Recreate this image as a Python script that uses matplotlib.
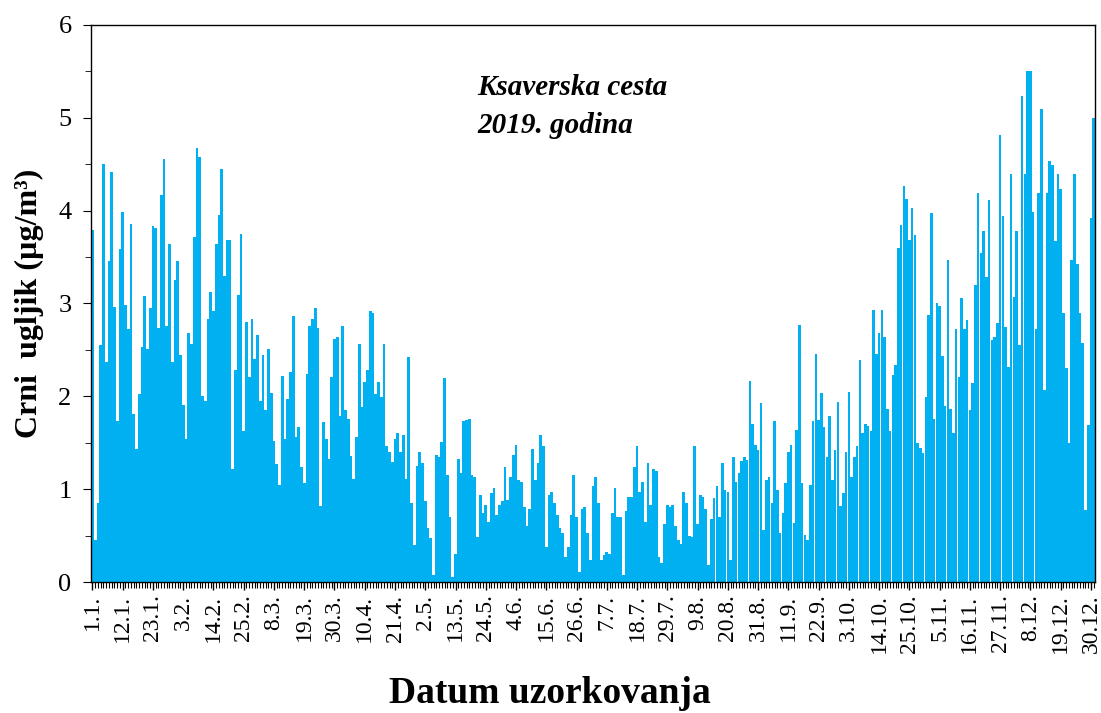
import numpy as np
import matplotlib
matplotlib.use("Agg")
import matplotlib.pyplot as plt
from matplotlib.ticker import MultipleLocator

# dnevne vrijednosti crnog ugljika (ug/m3), 1.1.2019 - 31.12.2019
jan_feb = [3.79, 0.45, 0.85, 2.55, 4.5, 2.37, 3.46, 4.42, 2.96, 1.73, 3.59, 3.99, 2.98, 2.73,
           3.86, 1.81, 1.43, 2.02, 2.53, 3.08, 2.51, 2.95, 3.83, 3.81, 2.74, 4.17, 4.56, 2.76,
           3.64, 2.37, 3.25, 3.46, 2.44, 1.91, 1.54, 2.68, 2.56, 3.72]
feb_mar = [4.67, 4.58, 2.0, 1.95, 2.83, 3.12, 2.92, 3.64, 3.95, 4.45, 3.3, 3.68, 3.68, 1.22,
           2.28, 3.09, 3.75, 1.63, 2.8, 2.21, 2.83, 2.4, 2.66, 1.95, 2.44, 1.85, 2.51, 2.04,
           1.52, 1.27, 1.04, 2.22, 1.54, 1.97, 2.26, 2.87, 1.56, 1.67, 1.24, 1.07]
mar_apr = [2.24, 2.76, 2.83, 2.95, 2.74, 0.82, 1.72, 1.54, 1.32, 2.21, 2.62, 2.64, 1.79, 2.76,
           1.85, 1.76, 1.36, 1.11, 1.56, 2.56, 1.88, 2.15, 2.28, 2.92, 2.9, 2.03, 2.15, 1.99,
           2.56, 1.47, 1.4, 1.29, 1.54, 1.61, 1.4, 1.58, 1.11, 2.42, 0.85, 0.4, 1.25, 1.4]
may_jun = [1.28, 0.87, 0.58, 0.47, 0.08, 1.37, 1.35, 1.51, 2.2, 1.15, 0.7, 0.05, 0.3, 1.33,
           1.17, 1.73, 1.74, 1.76, 1.15, 1.13, 0.49, 0.94, 0.74, 0.83, 0.65, 0.96, 1.01, 0.72,
           0.83, 0.87, 1.24, 0.88, 1.13, 1.37, 1.48, 1.1, 1.08, 0.81]
jun_jul = [0.6, 0.79, 1.43, 1.1, 1.28, 1.58, 1.46, 0.38, 0.94, 0.97, 0.85, 0.72, 0.58, 0.53,
           0.27, 0.38, 0.72, 1.15, 0.7, 0.11, 0.79, 0.81, 0.53, 0.24, 1.03, 1.13, 0.85, 0.24,
           0.29, 0.32, 0.3, 0.74, 1.01, 0.7, 0.7, 0.08, 0.76, 0.92, 0.92, 1.24, 1.46]
jul_aug = [0.97, 1.08, 0.65, 1.28, 0.83, 1.22, 1.2, 0.27, 0.2, 0.63, 0.83, 0.81, 0.83, 0.6,
           0.45, 0.41, 0.97, 0.85, 0.5, 0.49, 1.46, 0.63, 0.94, 0.92, 0.79, 0.18, 0.68, 0.9,
           1.03, 0.7, 1.28, 0.99, 0.97, 0.24, 1.35, 1.08, 1.17, 1.3, 1.35, 1.31, 2.17]
aug_okt = [1.7, 1.48, 1.42, 1.93, 0.56, 1.1, 1.13, 0.85, 1.73, 0.99, 0.53, 0.74, 1.07, 1.4,
           1.48, 0.64, 1.64, 2.77, 1.07, 0.51, 0.45, 1.05, 1.73, 2.46, 1.75, 2.04, 1.67, 1.35,
           1.79, 1.1, 1.42, 1.94, 0.82, 0.96, 1.4, 2.05, 1.13, 1.35, 1.46, 2.39]
okt_nov = [1.61, 1.7, 1.68, 1.63, 2.93, 2.46, 2.68, 2.93, 2.64, 1.86, 1.63, 2.23, 2.34, 3.6,
           3.84, 4.27, 4.13, 3.68, 4.03, 3.74, 1.5, 1.44, 1.39, 1.99, 2.88, 3.98, 1.76, 3.0,
           2.97, 2.43, 1.9, 3.47, 1.86, 1.6, 2.72, 2.21, 3.06, 2.72]
nov_dec = [2.82, 1.85, 2.14, 3.2, 4.19, 3.54, 3.78, 3.29, 4.12, 2.61, 2.64, 2.79, 4.82, 3.94,
           2.75, 2.32, 4.4, 3.07, 3.78, 2.55, 5.23, 4.39, 5.5, 5.5, 3.99, 2.72, 4.19, 5.1,
           2.07, 4.19, 4.53, 4.49, 3.67, 4.39, 4.23, 2.9, 2.3, 1.5, 3.47, 4.4, 3.42, 2.9,
           2.57, 0.78, 1.69, 3.92, 5.0]

vrijednosti = (jan_feb + feb_mar + mar_apr + may_jun + jun_jul + jul_aug
               + aug_okt + okt_nov + nov_dec)
assert len(vrijednosti) == 365, len(vrijednosti)

datumi = ["1.1.", "12.1.", "23.1.", "3.2.", "14.2.", "25.2.", "8.3.", "19.3.", "30.3.",
          "10.4.", "21.4.", "2.5.", "13.5.", "24.5.", "4.6.", "15.6.", "26.6.", "7.7.",
          "18.7.", "29.7.", "9.8.", "20.8.", "31.8.", "11.9.", "22.9.", "3.10.", "14.10.",
          "25.10.", "5.11.", "16.11.", "27.11.", "8.12.", "19.12.", "30.12."]

plt.rcParams['font.family'] = ['Liberation Serif', 'DejaVu Serif']

fig = plt.figure(figsize=(11.01, 7.13), dpi=100)
ax = fig.add_axes([0.0827, 0.1837, 0.9119, 0.7813])

dani = np.arange(len(vrijednosti))
ax.bar(dani, vrijednosti, width=0.97, color="#00B0F0", linewidth=0)

ax.set_xlim(-0.5, 364.5)
ax.set_ylim(0, 6)

ax.set_xticks(dani[::11])
ax.set_xticklabels(datumi, rotation=90)
ax.set_xticks(dani, minor=True)
ax.tick_params(axis="x", which="major", length=6, width=1, pad=3, labelsize=17)
ax.tick_params(axis="x", which="minor", length=4, width=0.8)

ax.yaxis.set_major_locator(MultipleLocator(1))
ax.yaxis.set_minor_locator(MultipleLocator(0.5))
ax.tick_params(axis="y", which="major", length=6, labelsize=19, pad=8)
ax.tick_params(axis="y", which="minor", length=4)

for s in ax.spines.values():
    s.set_linewidth(1)

ax.set_ylabel("Crni  ugljik (µg/m³)", fontsize=23, fontweight="bold", va="center")
ax.yaxis.set_label_coords(-0.061, 0.5)
ax.set_xlabel("Datum uzorkovanja", fontsize=27, fontweight="bold", va="center")
ax.xaxis.set_label_coords(0.457, -0.2)

ax.text(0.385, 0.887, "Ksaverska cesta", transform=ax.transAxes,
        fontsize=21, fontweight="bold", fontstyle="italic", va="center", ha="left")
ax.text(0.385, 0.82, "2019. godina", transform=ax.transAxes,
        fontsize=21, fontweight="bold", fontstyle="italic", va="center", ha="left")

plt.savefig("out.png", dpi=100)
